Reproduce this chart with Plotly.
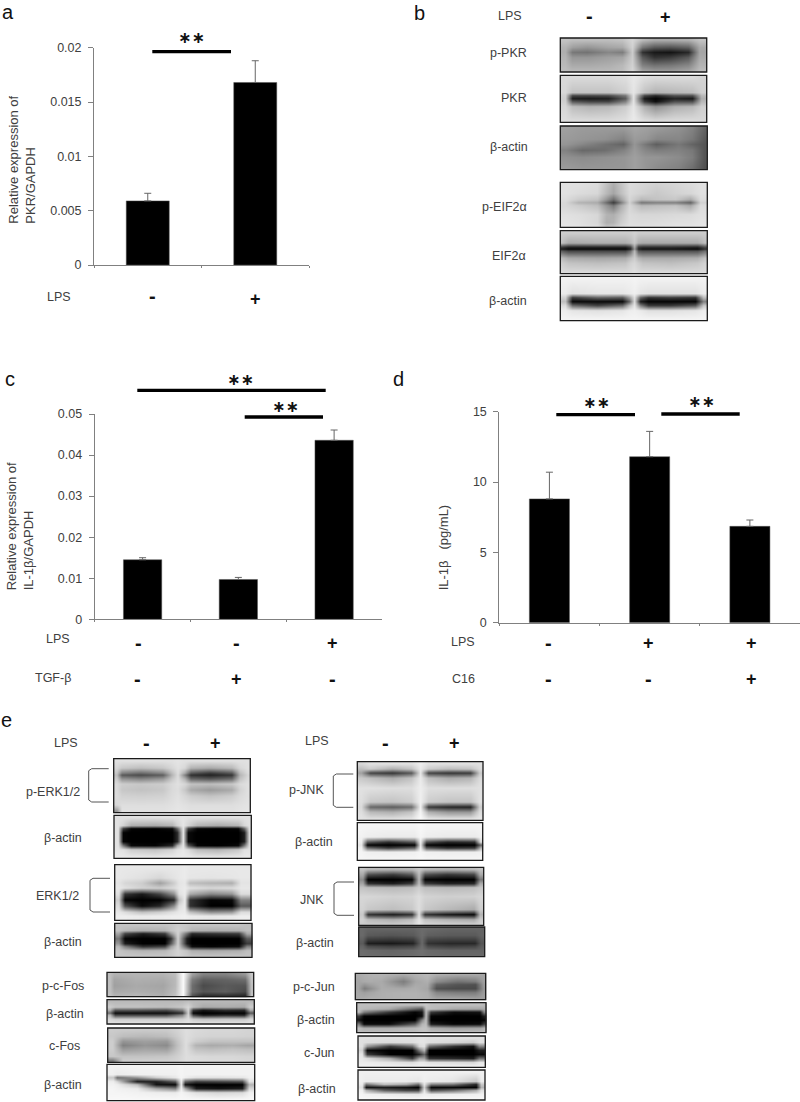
import numpy as np
import plotly.graph_objects as go

# ---------- bar chart data ----------
a_cats = ["LPS-", "LPS+"]
a_vals = [0.0059, 0.0168]
a_errs = [0.0007, 0.0020]
a_ticks = [0, 0.005, 0.01, 0.015, 0.02]
a_ticktext = ["0", "0.005", "0.01", "0.015", "0.02"]

c_cats = ["LPS- TGF-", "LPS- TGF+", "LPS+ TGF-"]
c_vals = [0.0145, 0.0097, 0.0436]
c_errs = [0.0005, 0.0005, 0.0025]
c_ticks = [0, 0.01, 0.02, 0.03, 0.04, 0.05]
c_ticktext = ["0", "0.01", "0.02", "0.03", "0.04", "0.05"]

d_cats = ["LPS- C16-", "LPS+ C16-", "LPS+ C16+"]
d_vals = [8.8, 11.8, 6.85]
d_errs = [1.9, 1.8, 0.45]
d_ticks = [0, 5, 10, 15]
d_ticktext = ["0", "5", "10", "15"]

# ---------- blot densitometry, grey levels ----------
BLOTS = {}
BLOTS["b_pPKR"] = ([.03,.08,.18,.33,.42,.49,.56,.64,.75,.87,.95], [.05,.25,.4,.55,.8,.97], [
 [195,190,190,190,195,215,185,170,170,175,195],
 [180,160,150,165,170,210,120,90,85,100,170],
 [175,120,115,135,125,205,50,25,20,40,165],
 [180,150,150,160,165,205,90,50,60,90,170],
 [185,170,170,175,185,210,130,115,120,135,180],
 [190,185,185,185,190,215,165,155,155,165,190]])
BLOTS["b_PKR"] = ([.03,.08,.2,.33,.44,.5,.57,.65,.78,.9,.96], [.05,.35,.43,.49,.56,.65,.97], [
 [218,218,218,218,222,232,222,218,218,218,212],
 [215,195,195,195,208,230,195,180,185,190,208],
 [208,70,70,75,120,228,70,40,80,80,185],
 [205,30,25,30,90,228,25,5,35,25,175],
 [208,90,70,70,130,228,60,15,80,80,185],
 [215,190,180,185,205,230,175,145,175,185,208],
 [222,222,222,222,225,235,225,222,222,222,218]])
BLOTS["b_actin1"] = ([.03,.15,.3,.43,.5,.58,.65,.8,.9,.98], [.05,.3,.42,.55,.7,.97], [
 [160,155,155,155,165,160,155,145,130,100],
 [155,150,145,130,155,150,135,135,120,90],
 [150,135,115,100,150,120,95,120,100,85],
 [130,105,110,130,155,135,125,130,120,85],
 [145,140,145,150,160,150,150,140,125,85],
 [155,150,150,150,160,150,140,130,110,80]])
BLOTS["b_pEIF"] = ([.03,.12,.25,.31,.36,.41,.47,.55,.65,.78,.88,.95], [.03,.25,.38,.45,.52,.7,.88,.97], [
 [225,225,220,195,175,195,220,215,210,215,220,225],
 [225,220,215,185,165,190,218,210,200,210,215,225],
 [220,205,195,150,110,160,215,185,195,200,170,220],
 [215,180,170,110,60,120,210,120,130,130,100,210],
 [215,205,190,150,120,170,215,185,190,195,170,220],
 [225,222,215,180,175,195,220,215,215,218,220,225],
 [228,225,215,175,180,205,222,220,222,225,225,228],
 [230,228,222,195,200,215,225,225,225,228,228,230]])
BLOTS["b_EIF"] = ([.01,.05,.25,.44,.475,.5,.53,.56,.75,.93,.98], [.05,.28,.36,.41,.47,.62,.75,.97], [
 [205,205,205,205,205,210,205,205,205,205,205],
 [190,170,175,175,185,200,175,170,170,170,190],
 [60,40,40,40,70,170,60,50,50,40,80],
 [25,10,10,10,40,150,40,20,20,10,50],
 [90,70,70,70,110,185,90,80,80,80,110],
 [185,170,165,170,190,205,180,170,170,175,195],
 [205,195,190,195,210,215,205,195,190,200,210],
 [220,220,220,220,220,225,220,220,220,220,220]])
BLOTS["b_actin2"] = ([.03,.08,.25,.42,.47,.5,.54,.6,.75,.92,.97], [.05,.38,.48,.57,.66,.76,.97], [
 [242,242,242,242,242,244,242,242,242,242,242],
 [235,225,230,230,235,240,230,225,225,225,235],
 [210,60,100,90,160,225,100,50,60,50,190],
 [190,10,10,10,100,220,30,5,5,5,130],
 [220,110,70,110,190,230,130,60,60,90,200],
 [238,230,225,230,238,240,235,225,225,230,238],
 [245,245,245,245,245,245,245,245,245,245,245]])
BLOTS["e_pERK"] = ([.02,.06,.2,.36,.42,.47,.52,.56,.7,.86,.92,.98], [.03,.17,.25,.3,.36,.46,.58,.68,.85,.97], [
 [225,225,225,225,225,228,225,225,225,225,225,225],
 [215,200,190,200,215,225,215,180,170,185,215,225],
 [200,130,110,135,190,222,170,90,60,90,190,220],
 [190,90,75,95,180,220,130,50,35,55,180,215],
 [205,150,135,155,200,222,180,105,90,110,195,220],
 [218,205,200,205,218,225,215,195,190,200,218,225],
 [218,200,195,200,218,222,200,170,155,170,210,225],
 [220,210,208,210,220,225,215,205,195,205,218,225],
 [215,222,222,222,225,228,225,222,222,222,225,228],
 [150,225,225,225,228,230,228,225,225,225,228,230]])
BLOTS["e_actin1"] = ([.03,.065,.12,.3,.42,.46,.5,.535,.6,.75,.9,.945,.98], [.05,.22,.3,.4,.6,.7,.78,.97], [
 [225,225,225,225,225,225,228,225,225,225,225,225,225],
 [225,210,175,170,180,210,230,210,180,170,180,215,225],
 [225,60,5,0,10,100,230,60,5,0,5,100,220],
 [225,5,0,0,0,40,230,10,0,0,0,30,215],
 [225,5,0,0,0,40,230,10,0,0,0,30,215],
 [225,120,10,5,40,170,230,90,5,0,10,120,220],
 [228,225,205,195,210,225,232,220,190,180,200,225,228],
 [235,235,235,235,235,235,235,235,235,235,235,235,235]])
BLOTS["e_ERK"] = ([.03,.07,.2,.33,.43,.47,.51,.55,.7,.86,.92], [.05,.24,.32,.42,.52,.63,.74,.84,.92], [
 [232,232,232,232,232,232,235,232,232,232,232],
 [232,230,225,215,228,232,235,230,228,230,232],
 [228,215,205,160,205,228,232,190,180,175,228],
 [232,225,210,205,220,230,235,225,215,220,232],
 [225,55,25,70,145,225,235,170,135,150,220],
 [205,5,0,0,40,190,235,50,5,10,130],
 [220,80,10,40,140,220,235,50,0,0,90],
 [232,220,190,205,225,232,235,190,140,150,220],
 [238,238,235,236,238,238,240,236,232,234,238]])
BLOTS["e_actin2"] = ([.03,.07,.2,.36,.41,.46,.52,.56,.7,.9,.96], [.05,.2,.3,.45,.58,.68,.8,.97], [
 [195,195,195,195,198,205,200,195,195,195,190],
 [195,185,175,180,195,210,195,180,175,178,190],
 [165,70,30,60,150,212,110,40,50,60,170],
 [120,5,0,0,50,210,30,0,0,0,90],
 [150,30,0,0,90,210,30,0,0,0,60],
 [185,130,50,70,160,212,90,15,5,15,130],
 [198,190,180,185,198,212,195,175,170,175,190],
 [200,200,200,200,202,212,202,198,198,198,195]])
BLOTS["e_pFos"] = ([.02,.05,.2,.38,.46,.52,.58,.65,.8,.94,.98], [.06,.3,.55,.78,.92], [
 [190,178,180,180,190,250,160,130,130,150,200],
 [190,165,175,172,185,250,125,95,100,110,195],
 [190,160,170,165,185,250,110,75,90,85,190],
 [190,170,175,170,190,250,110,85,95,75,190],
 [195,180,185,175,195,250,85,45,50,40,195]])
BLOTS["e_actin3"] = ([.02,.05,.2,.4,.51,.55,.58,.65,.8,.93,.97], [.05,.28,.4,.52,.63,.78,.95], [
 [185,185,185,185,185,190,185,185,185,185,185],
 [205,195,195,190,200,215,190,170,175,170,205],
 [175,90,90,80,130,215,60,25,50,45,170],
 [110,15,15,15,50,210,10,0,5,5,90],
 [180,70,70,70,130,215,70,25,40,35,150],
 [215,205,205,205,210,222,205,195,200,200,215],
 [225,225,225,225,225,228,225,225,225,225,225]])
BLOTS["e_cFos"] = ([.03,.1,.25,.4,.47,.53,.6,.7,.85,.95], [.04,.22,.38,.5,.62,.8,.96], [
 [205,205,205,205,212,222,218,215,215,212],
 [200,190,185,190,205,222,215,212,212,210],
 [205,150,160,155,195,222,205,195,195,195],
 [205,130,150,140,190,222,180,170,175,165],
 [205,155,165,160,195,222,195,190,195,190],
 [200,195,195,198,208,222,218,215,215,212],
 [110,205,208,208,212,222,220,218,218,215]])
BLOTS["e_actin4"] = ([.04,.07,.2,.33,.46,.5,.53,.6,.75,.91,.96], [.05,.27,.36,.47,.56,.66,.76,.97], [
 [242,242,242,242,242,245,242,242,242,242,242],
 [240,235,240,240,240,245,242,242,242,242,242],
 [200,110,150,205,232,245,238,225,225,230,240],
 [238,215,30,30,90,240,100,60,70,80,225],
 [242,238,190,20,10,235,20,0,0,0,180],
 [245,242,235,170,130,240,170,30,20,30,215],
 [245,245,242,238,235,245,240,225,215,220,240],
 [248,248,248,248,248,248,248,248,248,248,248]])
BLOTS["e_pJNK"] = ([.03,.1,.28,.43,.5,.56,.72,.9,.97], [.03,.11,.19,.27,.45,.68,.77,.85,.97], [
 [215,225,225,225,238,225,225,225,225],
 [190,205,175,195,235,205,190,195,220],
 [160,70,55,90,232,70,55,60,200],
 [200,190,170,195,235,190,170,180,218],
 [225,225,222,222,238,222,222,222,225],
 [222,200,195,205,240,205,195,195,225],
 [218,105,95,110,242,60,40,35,205],
 [222,185,175,195,245,175,150,150,220],
 [228,225,225,230,250,232,228,228,232]])
BLOTS["e_actin5"] = ([.03,.08,.25,.45,.5,.55,.72,.93,.98], [.05,.38,.5,.58,.66,.78,.97], [
 [245,245,245,245,248,245,245,245,245],
 [242,238,235,235,245,238,235,235,240],
 [238,90,50,90,240,80,40,50,220],
 [230,5,0,5,235,5,0,0,100],
 [240,110,60,100,242,90,50,60,180],
 [245,240,238,240,246,240,238,238,240],
 [246,246,246,246,248,246,246,246,246]])
BLOTS["e_JNK"] = ([.03,.07,.27,.42,.48,.53,.7,.92,.97], [.03,.12,.2,.27,.34,.5,.72,.81,.89,.98], [
 [195,185,180,185,200,185,180,185,195],
 [170,80,60,90,190,80,55,70,170],
 [140,0,0,5,185,5,0,0,120],
 [165,50,30,60,190,60,35,40,170],
 [195,190,185,190,205,190,185,190,200],
 [215,215,210,212,222,212,208,210,215],
 [210,200,190,200,222,200,185,170,205],
 [200,50,30,50,225,50,25,10,180],
 [210,190,175,190,230,195,180,170,205],
 [205,205,205,210,232,215,212,210,212]])
BLOTS["e_actin6"] = ([.03,.07,.25,.43,.5,.55,.72,.92,.97], [.05,.28,.42,.52,.63,.78,.96], [
 [105,100,100,100,108,105,100,100,100],
 [105,90,85,90,108,95,90,90,100],
 [95,55,50,55,105,65,60,60,90],
 [90,30,25,35,105,50,40,40,85],
 [100,75,65,70,108,75,65,70,92],
 [108,105,100,105,112,105,100,100,100],
 [110,108,105,108,112,108,105,105,105]])
BLOTS["e_pJun"] = ([.02,.07,.11,.2,.37,.46,.55,.62,.78,.92,.98], [.05,.3,.42,.56,.72,.95], [
 [170,175,178,180,172,178,185,175,170,170,165],
 [165,170,172,170,125,165,175,140,115,125,160],
 [165,150,160,172,140,170,170,100,85,80,155],
 [165,125,140,172,170,175,165,80,75,75,150],
 [168,160,165,175,178,178,172,135,125,125,155],
 [170,172,175,175,178,178,175,165,165,160,160]])
BLOTS["e_actin7"] = ([.015,.05,.25,.45,.5,.53,.57,.75,.95,.985], [.05,.2,.3,.42,.58,.7,.82,.96], [
 [190,190,190,190,195,200,190,190,190,185],
 [190,185,170,100,80,190,190,170,165,170],
 [190,130,60,5,20,190,60,15,20,130],
 [60,5,0,0,10,190,5,0,0,30],
 [20,0,0,0,130,190,0,0,0,5],
 [120,10,10,90,180,190,30,5,10,60],
 [190,175,175,185,195,195,175,160,165,180],
 [190,190,190,190,195,195,190,190,190,190]])
BLOTS["e_cJun"] = ([.03,.07,.25,.42,.48,.52,.56,.75,.9,.95], [.05,.2,.32,.45,.58,.7,.82,.96], [
 [225,225,225,225,228,228,225,225,225,225],
 [225,222,218,222,228,228,222,215,205,222],
 [225,150,60,110,215,225,110,50,20,130],
 [210,10,0,0,120,180,0,0,0,30],
 [228,60,0,0,40,100,0,0,0,10],
 [232,220,170,60,160,160,50,40,30,110],
 [235,235,228,220,232,232,225,220,215,230],
 [240,240,240,240,240,240,240,240,240,240]])
BLOTS["e_actin8"] = ([.03,.06,.2,.38,.47,.52,.57,.75,.93,.97], [.05,.35,.46,.58,.68,.8,.96], [
 [240,240,240,240,240,240,240,240,240,240],
 [240,235,235,235,230,240,235,230,200,235],
 [235,120,190,170,110,230,130,120,40,200],
 [225,20,30,20,5,210,10,10,5,180],
 [240,180,100,70,70,230,80,110,170,225],
 [245,242,238,232,230,240,235,238,240,242],
 [248,248,248,248,248,248,248,248,248,248]])

# ---------- panel geometry (page pixels): x0, x1, y0, y1 ----------
BOXES = {
 "b_pPKR": (560.3,706.7,38,72), "b_PKR": (560.3,706.7,75.3,122.3), "b_actin1": (560.3,707.3,126,169.7),
 "b_pEIF": (560.3,707.3,182.3,227.3), "b_EIF": (560.3,707.3,230.7,273.7), "b_actin2": (560.3,707.3,276.3,320.7),
 "e_pERK": (113.7,250.3,758.7,812.7), "e_actin1": (114,251.3,815.3,858.3), "e_ERK": (114.7,251,864.7,920.3),
 "e_actin2": (114.7,252,923.3,957.3), "e_pFos": (107,253.7,972.3,996.7), "e_actin3": (107,254.3,999.7,1024),
 "e_cFos": (107.7,254.7,1028,1062.3), "e_actin4": (107,254.7,1064.3,1100.7),
 "e_pJNK": (357.3,483,761.7,820.3), "e_actin5": (357.3,482.7,822.7,860.3), "e_JNK": (358.7,483.7,867.3,925.3),
 "e_actin6": (358.7,484.7,927,956.7), "e_pJun": (355.3,485.7,973.3,999.7), "e_actin7": (356.7,486,1002.7,1032.7),
 "e_cJun": (358,485.3,1036,1067.3), "e_actin8": (358,485,1070,1100),
}
W, H = 800, 1102
GREY = "#808080"
TXT = "#404040"
SANS = "Liberation Sans"

# text: string, x, y, anchor
LABELS = [
 ("p-PKR",529,53,"right"),("PKR",529,98,"right"),("β-actin",529.5,147,"right"),("p-EIF2α",529,207,"right"),
 ("EIF2α",527.5,256,"right"),("β-actin",528.5,301,"right"),("LPS",510,16,"center"),
 ("p-ERK1/2",81.7,791.7,"right"),("β-actin",84,838.3,"right"),("ERK1/2",81,896,"right"),("β-actin",84,941.7,"right"),
 ("p-c-Fos",85.7,986.3,"right"),("β-actin",86.3,1013.7,"right"),("c-Fos",82.3,1046,"right"),("β-actin",84,1084.7,"right"),
 ("LPS",65.7,742.7,"center"),
 ("p-JNK",326,790,"right"),("β-actin",335,842.3,"right"),("JNK",326,900,"right"),("β-actin",336.3,943.3,"right"),
 ("p-c-Jun",337.3,987.3,"right"),("β-actin",337.3,1019.7,"right"),("c-Jun",337.3,1053.3,"right"),("β-actin",338,1088.7,"right"),
 ("LPS",317.3,740.7,"center"),
 ("LPS",59,297,"center"),("LPS",58,639.3,"center"),("TGF-β",52.7,678.3,"center"),("LPS",463.3,642.3,"center"),("C16",463,679.3,"center"),
]
SIGNS = [
 ("-",589,16),("+",665,17),("-",146.7,743),("+",215.7,743),("-",385.7,743),("+",454,743),
 ("-",152,296),("+",255,299),
 ("-",138.3,643),("-",236.3,643),("+",332.7,643),("-",137.7,679),("+",236.3,679),("-",332.7,679),
 ("-",548.3,643),("+",648,643),("+",751.3,643),("-",548.3,679),("-",648.3,679),("+",751.3,679),
]
PANEL_LETTERS = [("a",8,12),("b",419,13),("c",10,379),("d",398,379),("e",6,720)]
SIG_LINES = [(152.3,231,51.7),(137.3,325.7,390.3),(244.7,323,417),(556.3,635,414.7),(661.3,739.7,414)]
SIG_STARS = [(191.7,37.7),(240,379),(285,406.7),(596.7,402),(701.7,401.3)]
BRACKETS = [(88.7,108.7,768.7,802),(90,110,878.3,912),(333.3,353.3,774,807.3),(334,354,882,915.3)]
YTITLES = [("Relative expression of<br>PKR/GAPDH",21.7,160),("Relative expression of<br>IL-1β/GAPDH",20,526.3),("IL-1β   (pg/mL)",443.3,547)]

fig = go.Figure()

def dom_x(p0, p1):
    return [p0 / W, p1 / W]
def dom_y(top, bottom):
    return [1 - bottom / H, 1 - top / H]

def bar_panel(i, cats, vals, errs, ticks, ticktext, x0, x1, ytop, y0):
    sfx = str(i)
    fig.add_trace(go.Bar(x=cats, y=vals, width=0.4, marker=dict(color="#000000", line=dict(color="#555555", width=0.5)),
                         error_y=dict(type="data", symmetric=False, array=errs, arrayminus=[0]*len(errs),
                                      color="#666666", thickness=1, width=3.5),
                         xaxis="x"+sfx, yaxis="y"+sfx, showlegend=False))
    fig.layout["xaxis"+sfx] = dict(domain=dom_x(x0, x1), anchor="y"+sfx, showticklabels=False, ticks="outside",
                                   tickson="boundaries", ticklen=2, tickcolor=GREY, showline=True, linecolor=GREY,
                                   showgrid=False, zeroline=False, automargin=False)
    fig.layout["yaxis"+sfx] = dict(domain=dom_y(ytop, y0), anchor="x"+sfx, range=[ticks[0], ticks[-1]], tickvals=ticks,
                                   ticktext=ticktext, ticks="outside", ticklen=5, tickcolor=GREY, showline=True,
                                   linecolor=GREY, showgrid=False, zeroline=False, automargin=False, ticklabelstandoff=4,
                                   tickfont=dict(family=SANS, size=12.5, color=TXT))

bar_panel(1, a_cats, a_vals, a_errs, a_ticks, a_ticktext, 94, 309, 47.7, 265)
bar_panel(2, c_cats, c_vals, c_errs, c_ticks, c_ticktext, 94.7, 382, 414, 619.3)
bar_panel(3, d_cats, d_vals, d_errs, d_ticks, d_ticktext, 499.3, 800, 411.7, 622.7)

# page-pixel axes for blots and annotation marks
fig.layout.xaxis4 = dict(domain=[0, 1], range=[0, W], visible=False, anchor="y4", fixedrange=True, automargin=False)
fig.layout.yaxis4 = dict(domain=[0, 1], range=[H, 0], visible=False, anchor="x4", fixedrange=True, automargin=False)

shapes = []
for name, (xf, yf, z) in BLOTS.items():
    x0, x1, y0, y1 = BOXES[name]
    fx = [0.0, 0.002] + list(xf) + [0.998, 1.0]
    fy = [0.0, 0.004] + list(yf) + [0.996, 1.0]
    zz = np.pad(np.array(z, dtype=float), 2, mode="edge")
    fig.add_trace(go.Heatmap(x=[x0 + f * (x1 - x0) for f in fx], y=[y0 + f * (y1 - y0) for f in fy], z=zz,
                             zmin=0, zmax=255, zsmooth="best", showscale=False, hoverinfo="skip",
                             colorscale=[[0, "#000000"], [1, "#ffffff"]], xaxis="x4", yaxis="y4"))
    shapes.append(dict(type="rect", xref="x4", yref="y4", x0=x0, x1=x1, y0=y0, y1=y1,
                       line=dict(color="#1a1a1a", width=1.3), layer="above"))

for x0, x1, y in SIG_LINES:
    shapes.append(dict(type="line", xref="x4", yref="y4", x0=x0, x1=x1, y0=y, y1=y, line=dict(color="#000", width=3.3)))
for x0, x1, y0, y1 in BRACKETS:
    shapes.append(dict(type="path", xref="x4", yref="y4", path=f"M{x1},{y0} L{x0+3},{y0} L{x0},{y0+2} L{x0},{y1-2} L{x0+3},{y1} L{x1},{y1}",
                       line=dict(color="#555", width=1)))
fig.layout.shapes = shapes

ann = []
def note(text, x, y, **kw):
    d = dict(text=text, x=x, y=y, xref="x4", yref="y4", showarrow=False, xanchor="center", yanchor="middle")
    d.update(kw)
    ann.append(d)

for t, x, y, anc in LABELS:
    note(t, x, y, xanchor=anc, font=dict(family=SANS, size=12.5, color=TXT))
for t, x, y in SIGNS:
    if t == "-":
        note("<b>-</b>", x, y, font=dict(family=SANS, size=20, color="#111"))
    else:
        note("<b>+</b>", x, y, font=dict(family=SANS, size=18, color="#111"))
for t, x, y in PANEL_LETTERS:
    note(t, x, y, font=dict(family=SANS, size=20, color="#111"))
for x, y in SIG_STARS:
    note("<b>∗∗</b>", x, y, font=dict(family="DejaVu Sans", size=16, color="#111"))
for t, x, y in YTITLES:
    note(t, x, y, textangle=-90, align="left", font=dict(family=SANS, size=13, color=TXT))
fig.layout.annotations = ann

fig.update_layout(width=W, height=H, margin=dict(l=0, r=0, t=0, b=0, pad=0), paper_bgcolor="white", plot_bgcolor="rgba(0,0,0,0)",
                  bargap=0.6, showlegend=False)
fig.write_html("out.html", post_script="document.body.style.margin='0';", config={"displayModeBar": False})
